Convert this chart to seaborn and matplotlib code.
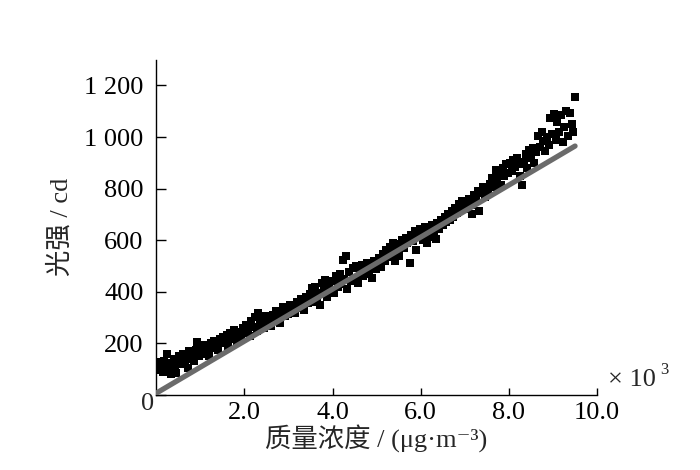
import seaborn as sns
import matplotlib.pyplot as plt
import pandas as pd

# --------------------------------------------------------------
# Data (concentration in 10^3 ug/m3, light in cd)
# --------------------------------------------------------------
conc = [0.03, 0.06, 0.08, 0.10, 0.13, 0.15, 0.18, 0.21, 0.24, 0.27, 0.30, 0.33, 0.36, 0.40, 0.43, 0.46, 0.49,
        0.52, 0.55, 0.58, 0.62, 0.65, 0.68, 0.72, 0.75, 0.78, 0.82, 0.86, 0.90, 0.93, 0.97,
        1.00, 1.04, 1.08, 1.12, 1.16, 1.20, 1.24, 1.28, 1.32, 1.36, 1.40, 1.44, 1.48,
        1.52, 1.56, 1.60, 1.64, 1.68, 1.72, 1.76, 1.80, 1.84, 1.88, 1.92, 1.96,
        2.00, 2.04, 2.08, 2.12, 2.16, 2.20, 2.24, 2.28, 2.31, 2.35, 2.40, 2.44, 2.48,
        2.52, 2.56, 2.60, 2.64, 2.68, 2.72, 2.76, 2.80, 2.84, 2.88, 2.92, 2.96,
        3.00, 3.04, 3.08, 3.12, 3.16, 3.20, 3.24, 3.28, 3.32, 3.36, 3.40, 3.44, 3.48,
        3.53, 3.56, 3.60, 3.64, 3.68, 3.72, 3.76, 3.80, 3.84, 3.88, 3.92, 3.96,
        4.00, 4.04, 4.08, 4.12, 4.16, 4.20, 4.23, 4.27, 4.30, 4.34, 4.38, 4.42, 4.46,
        4.50, 4.54, 4.58, 4.62, 4.66, 4.70, 4.74, 4.78, 4.82, 4.86, 4.90, 4.94, 4.98,
        5.02, 5.06, 5.10, 5.14, 5.18, 5.22, 5.26, 5.30, 5.34, 5.38, 5.42, 5.46, 5.50,
        5.54, 5.58, 5.62, 5.66, 5.70, 5.75, 5.78, 5.82, 5.86, 5.90, 5.94, 5.98,
        6.02, 6.06, 6.10, 6.14, 6.18, 6.22, 6.26, 6.30, 6.34, 6.38, 6.42, 6.46,
        6.50, 6.54, 6.58, 6.62, 6.66, 6.70, 6.74, 6.78, 6.82, 6.86, 6.90, 6.94, 6.98,
        7.02, 7.06, 7.10, 7.14, 7.17, 7.21, 7.25, 7.29, 7.33, 7.37, 7.41, 7.45, 7.49,
        7.53, 7.57, 7.61, 7.65, 7.70, 7.74, 7.78, 7.82, 7.86, 7.90, 7.94, 7.98,
        8.02, 8.06, 8.10, 8.14, 8.18, 8.22, 8.26, 8.30, 8.34, 8.38, 8.42, 8.46, 8.50,
        8.54, 8.58, 8.62, 8.66, 8.70, 8.74, 8.78, 8.82, 8.86, 8.90, 8.94, 8.98,
        9.02, 9.06, 9.10, 9.14, 9.18, 9.22, 9.26, 9.30, 9.34, 9.38, 9.42, 9.46, 9.50]

light = [115, 95, 128, 105, 120, 88, 132, 110, 160, 118, 98, 80, 125, 140, 112, 86, 130,
         150, 118, 138, 160, 125, 145, 105, 168, 140, 155, 130, 172, 205, 150,
         178, 160, 192, 170, 185, 150, 200, 182, 210, 195, 172, 218, 200,
         225, 205, 232, 190, 240, 215, 250, 228, 205, 245, 222, 260,
         238, 270, 250, 228, 285, 262, 300, 248, 318, 275, 290, 258, 305,
         280, 298, 268, 310, 288, 325, 300, 278, 318, 340, 305, 330,
         312, 350, 328, 345, 318, 360, 338, 372, 350, 330, 378, 355, 392,
         413, 360, 417, 378, 395, 350, 432, 405, 445, 380, 420, 398,
         440, 395, 462, 418, 470, 430, 522, 450, 538, 412, 478, 440, 490,
         455, 500, 432, 478, 505, 462, 490, 510, 470, 498, 455, 520, 488,
         510, 530, 495, 545, 520, 560, 535, 575, 548, 590, 520, 565, 540,
         585, 600, 570, 610, 590, 513, 620, 598, 635, 560, 615, 645,
         625, 600, 650, 590, 640, 612, 660, 630, 605, 668, 645, 680,
         660, 690, 672, 700, 680, 712, 690, 725, 705, 740, 718, 750, 728,
         745, 722, 760, 735, 702, 775, 750, 790, 714, 782, 805, 768, 800,
         790, 818, 840, 805, 872, 830, 855, 815, 880, 850, 895, 860,
         900, 870, 912, 885, 920, 895, 848, 815, 905, 935, 880, 950, 920,
         958, 900, 940, 1005, 960, 1020, 985, 945, 1000, 970, 1075, 1010,
         1090, 990, 1060, 1020, 1085, 980, 1040, 1100, 1005, 1095, 1050, 1020, 1155]

# straight reference line drawn in grey
line_x = [0.02, 9.5]
line_y = [8, 965]

x_ticks = [2.0, 4.0, 6.0, 8.0, 10.0]
x_tick_labels = ["2.0", "4.0", "6.0", "8.0", "10.0"]
y_ticks = [0, 200, 400, 600, 800, 1000, 1200]
y_tick_labels = ["", "200", "400", "600", "800", "1 000", "1 200"]

df = pd.DataFrame({"conc": conc, "light": light})
df_line = pd.DataFrame({"conc": line_x, "light": line_y})

# --------------------------------------------------------------
# Style
# --------------------------------------------------------------
sns.set_style("ticks")
plt.rcParams["font.family"] = ["Liberation Serif", "Noto Sans CJK SC", "DejaVu Serif"]
plt.rcParams["axes.unicode_minus"] = False

fig = plt.figure(figsize=(7, 4.7), dpi=100)
ax = fig.add_axes([0.223, 0.16, 0.630, 0.713])

sns.scatterplot(data=df, x="conc", y="light", marker="s", color="black",
                s=34, linewidth=0, ax=ax, zorder=2)
sns.lineplot(data=df_line, x="conc", y="light", color="#6b6b6b",
             linewidth=3.8, ax=ax, zorder=3)

ax.set_xlim(0, 10)
ax.set_ylim(0, 1300)
sns.despine(ax=ax)
for s in ["left", "bottom"]:
    ax.spines[s].set_linewidth(1.0)
    ax.spines[s].set_color("black")

fs = 19
ax.set_xticks(x_ticks)
ax.set_xticklabels(x_tick_labels)
ax.set_yticks(y_ticks)
ax.set_yticklabels(y_tick_labels)
ax.tick_params(axis="y", direction="in", length=7, width=1, pad=9,
               labelsize=fs, colors="black")
ax.tick_params(axis="x", direction="in", length=5, width=1, pad=5,
               labelsize=fs, colors="black")

ax.set_xlabel("质量浓度 / (μg·m⁻³)", fontsize=fs, labelpad=1)
ax.set_ylabel("光强 / cd", fontsize=fs, labelpad=8)

ax.text(-0.02, -0.028, "0", transform=ax.transAxes, ha="center", va="center", fontsize=fs)
ax.text(1.025, 0.045, "× 10", transform=ax.transAxes, ha="left", va="center", fontsize=fs)
ax.text(1.142, 0.075, "3", transform=ax.transAxes, ha="left", va="center", fontsize=12)

fig.savefig("out.png", dpi=100)
